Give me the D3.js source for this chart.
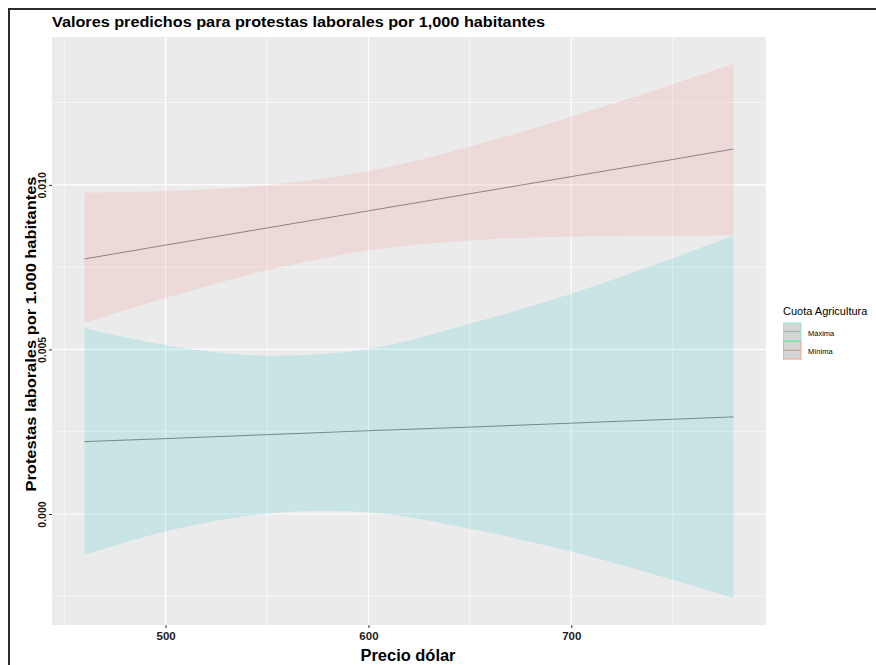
<!DOCTYPE html>
<meta charset="utf-8">
<style>

    body {
        margin: 0;
        background: #fff;
    }

    text {
        font-family: "Liberation Sans", Arial, sans-serif;
    }

    .fit {
        fill: none;
        stroke: #000;
        stroke-opacity: 0.45;
        stroke-width: 0.9px;
    }

    .axis path {
        display: none;
    }

    .axis line {
        stroke: #333;
    }

    .axis text {
        fill: #1a1a1a;
        font-weight: bold;
    }

</style>
<svg width="876" height="665"></svg>
<script src="https://cdn.jsdelivr.net/npm/d3@7"></script>
<script>

    // valores
    var precio = [460, 500, 550, 600, 650, 700, 750, 780];
    var grupos = ["Máxima", "Mínima"];

    var maximaFit  = [0.00220, 0.00229, 0.00241, 0.00253, 0.00264, 0.00276, 0.00288, 0.00295];
    var maximaLow  = [-0.00124, -0.00053, 0.00001, 0.00005, -0.00045, -0.00114, -0.00200, -0.00256];
    var maximaHigh = [0.00564, 0.00513, 0.00481, 0.00501, 0.00578, 0.00669, 0.00777, 0.00846];

    var minimaFit  = [0.00775, 0.00817, 0.00869, 0.00921, 0.00973, 0.01025, 0.01077, 0.01109];
    var minimaLow  = [0.00580, 0.00656, 0.00740, 0.00801, 0.00831, 0.00843, 0.00845, 0.00846];
    var minimaHigh = [0.00976, 0.00981, 0.00999, 0.01042, 0.01116, 0.01207, 0.01306, 0.01368];

    var xTicks = [500, 600, 700],
        xMinor = [450, 550, 650, 750],
        yTicks = [0, 0.005, 0.010],
        yMinor = [-0.0025, 0.0025, 0.0075, 0.0125];

    var colores = {"Máxima": "#00BFC4", "Mínima": "#F8766D"},
        keyBorde = {"Máxima": "#86edcd", "Mínima": "#f5a68c"},
        keyLinea = {"Máxima": "#8fb3aa", "Mínima": "#bb9a94"};

    var series = [
        {id: "Máxima", fit: maximaFit, low: maximaLow, high: maximaHigh},
        {id: "Mínima", fit: minimaFit, low: minimaLow, high: minimaHigh}
    ].map(function(s) {
        return {
            id: s.id,
            values: precio.map(function(p, i) {
                return {x: p, fit: s.fit[i], lo: s.low[i], hi: s.high[i]};
            })
        };
    });

    var svg = d3.select("svg"),
        margin = {top: 37, right: 110, bottom: 40, left: 52},
        width = svg.attr("width") - margin.left - margin.right,
        height = svg.attr("height") - margin.top - margin.bottom,
        g = svg.append("g").attr("transform", "translate(" + margin.left + "," + margin.top + ")");

    // expansion 5% como ggplot
    var xExt = d3.extent(precio),
        yExt = [d3.min(maximaLow.concat(minimaLow)), d3.max(maximaHigh.concat(minimaHigh))],
        xPad = (xExt[1] - xExt[0]) * 0.05,
        yPad = (yExt[1] - yExt[0]) * 0.05;

    var x = d3.scaleLinear().domain([xExt[0] - xPad, xExt[1] + xPad]).range([0, width]),
        y = d3.scaleLinear().domain([yExt[0] - yPad, yExt[1] + yPad]).range([height, 0]);

    // marco de la captura
    svg.append("path")
        .attr("d", "M9,665V9H876")
        .attr("fill", "none")
        .attr("stroke", "#2b2b2b")
        .attr("stroke-width", 2);

    svg.append("text")
        .attr("x", margin.left)
        .attr("y", 27)
        .attr("textLength", 493)
        .attr("lengthAdjust", "spacingAndGlyphs")
        .style("font-size", "14px")
        .style("font-weight", "bold")
        .attr("fill", "#000")
        .text("Valores predichos para protestas laborales por 1,000 habitantes");

    g.append("rect")
        .attr("width", width)
        .attr("height", height)
        .attr("fill", "#ebebeb");

    g.selectAll(".vminor").data(xMinor).enter().append("line")
        .attr("x1", x).attr("x2", x).attr("y1", 0).attr("y2", height)
        .attr("stroke", "#fff").attr("stroke-width", 0.6);
    g.selectAll(".hminor").data(yMinor).enter().append("line")
        .attr("y1", y).attr("y2", y).attr("x1", 0).attr("x2", width)
        .attr("stroke", "#fff").attr("stroke-width", 0.6);
    g.selectAll(".vmajor").data(xTicks).enter().append("line")
        .attr("x1", x).attr("x2", x).attr("y1", 0).attr("y2", height)
        .attr("stroke", "#fff").attr("stroke-width", 1.2);
    g.selectAll(".hmajor").data(yTicks).enter().append("line")
        .attr("y1", y).attr("y2", y).attr("x1", 0).attr("x2", width)
        .attr("stroke", "#fff").attr("stroke-width", 1.2);

    var area = d3.area()
        .curve(d3.curveCatmullRom)
        .x(function(d) { return x(d.x); })
        .y0(function(d) { return y(d.lo); })
        .y1(function(d) { return y(d.hi); });

    var line = d3.line()
        .x(function(d) { return x(d.x); })
        .y(function(d) { return y(d.fit); });

    var grupo = g.selectAll(".grupo")
        .data(series)
        .enter().append("g")
        .attr("class", "grupo");

    grupo.append("path")
        .attr("d", function(d) { return area(d.values); })
        .attr("fill", function(d) { return colores[d.id]; })
        .attr("fill-opacity", 0.15);

    grupo.append("path")
        .attr("class", "fit")
        .attr("d", function(d) { return line(d.values); });

    var xAxis = g.append("g")
        .attr("class", "axis axis--x")
        .attr("transform", "translate(0," + height + ")")
        .call(d3.axisBottom(x).tickValues(xTicks).tickSize(3).tickPadding(4).tickFormat(d3.format("d")));
    xAxis.selectAll("text").style("font-size", "11.5px");

    var yAxis = g.append("g")
        .attr("class", "axis axis--y")
        .call(d3.axisLeft(y).tickValues(yTicks).tickSize(3).tickFormat(d3.format(".3f")));
    yAxis.selectAll("text")
        .attr("x", null)
        .attr("dy", null)
        .attr("text-anchor", "middle")
        .attr("transform", "translate(-6.5,0) rotate(-90)")
        .style("font-size", "10.5px");

    svg.append("text")
        .attr("transform", "translate(35.5,334) rotate(-90)")
        .attr("text-anchor", "middle")
        .attr("textLength", 315)
        .attr("lengthAdjust", "spacingAndGlyphs")
        .style("font-size", "14.5px")
        .style("font-weight", "bold")
        .text("Protestas laborales por 1.000 habitantes");

    svg.append("text")
        .attr("x", 408)
        .attr("y", 661)
        .attr("text-anchor", "middle")
        .attr("textLength", 95)
        .attr("lengthAdjust", "spacingAndGlyphs")
        .style("font-size", "16px")
        .style("font-weight", "bold")
        .text("Precio dólar");

    // leyenda
    var legend = svg.append("g").attr("transform", "translate(783,0)");

    legend.append("text")
        .attr("x", 0)
        .attr("y", 315)
        .style("font-size", "11px")
        .text("Cuota Agricultura");

    var key = legend.selectAll(".key")
        .data(grupos)
        .enter().append("g")
        .attr("transform", function(d, i) { return "translate(0," + (322.5 + i * 18.6) + ")"; });

    key.append("rect")
        .attr("x", 0.5).attr("y", 0.5)
        .attr("width", 17.5).attr("height", 17.5)
        .attr("fill", "#d5d5d5")
        .attr("stroke", function(d) { return keyBorde[d]; });

    key.append("line")
        .attr("x1", 1).attr("x2", 17.5).attr("y1", 9.2).attr("y2", 9.2)
        .attr("stroke", function(d) { return keyLinea[d]; });

    key.append("text")
        .attr("x", 25)
        .attr("y", 13)
        .style("font-size", "7.5px")
        .text(function(d) { return d; });

</script>
